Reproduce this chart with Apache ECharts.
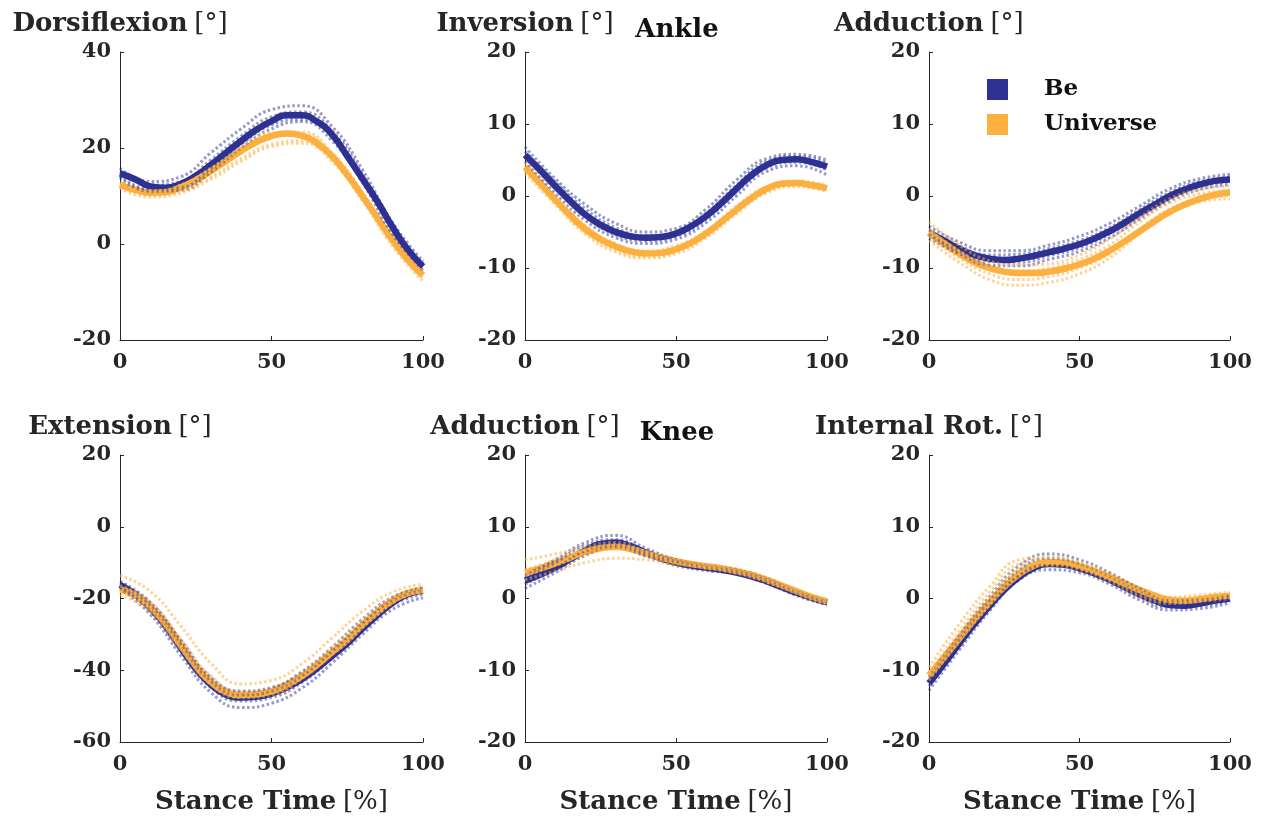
<!DOCTYPE html>
<html>
<head>
<meta charset="utf-8">
<title>Ankle and knee angles over stance</title>
<script src="https://cdn.jsdelivr.net/npm/echarts@6.0.0/dist/echarts.min.js"></script>
<style>
    html, body { margin: 0; padding: 0; background: #fff; }
    #main { width: 1267px; height: 818px; }
</style>
</head>
<body>
<div id="main"></div>
<script>
// stance time samples [%]
var xMean = [0, 5, 10, 15, 20, 25, 30, 35, 40, 45, 50, 55, 60, 65, 70, 75, 80, 85, 90, 95, 100];
var xTrial = [0, 10, 20, 30, 40, 50, 60, 70, 80, 90, 100];

// ankle dorsiflexion
var dorsiBe = [14.7, 13.5, 12.0, 11.7, 12.5, 14.2, 16.5, 19.0, 21.5, 23.8, 25.6, 26.8, 26.8, 25.5, 22.8, 18.3, 13.6, 8.8, 3.5, -1.2, -4.7];
var dorsiUni = [12.3, 11.3, 10.7, 10.8, 11.8, 13.3, 15.2, 17.3, 19.4, 21.2, 22.5, 23.0, 22.6, 21.0, 18.3, 14.4, 10.0, 5.4, 0.8, -3.3, -6.5];
var dorsiBeTrials = [
    [15.8, 13.0, 14.0, 19.0, 24.0, 28.0, 28.8, 24.5, 15.5, 4.4, -3.6],
    [15.0, 12.3, 13.0, 17.5, 22.5, 26.5, 27.5, 23.5, 14.5, 3.6, -4.1],
    [14.2, 11.5, 11.8, 15.8, 20.8, 24.8, 26.0, 22.5, 13.8, 2.8, -5.0],
    [13.8, 11.0, 11.2, 15.0, 20.0, 24.0, 25.5, 21.5, 12.8, 2.0, -5.5]
];
var dorsiUniTrials = [
    [12.8, 11.0, 12.3, 15.8, 20.0, 23.2, 23.3, 19.0, 10.8, 1.0, -6.0],
    [12.5, 10.8, 11.8, 15.2, 19.4, 22.5, 22.8, 18.5, 10.3, 0.8, -6.3],
    [12.0, 10.2, 11.0, 14.0, 17.8, 20.8, 21.5, 17.8, 9.5, 0.0, -7.2],
    [11.6, 9.8, 10.6, 13.5, 17.2, 20.3, 21.0, 17.2, 9.0, -0.5, -7.8]
];

// ankle inversion
var invBe = [5.7, 3.6, 1.4, -0.7, -2.6, -4.0, -5.0, -5.6, -5.8, -5.7, -5.2, -4.2, -2.8, -1.0, 1.0, 2.9, 4.3, 5.0, 5.1, 4.7, 4.1];
var invUni = [4.0, 1.8, -0.5, -2.7, -4.6, -6.0, -7.0, -7.7, -8.0, -7.9, -7.4, -6.5, -5.2, -3.6, -1.9, -0.3, 1.0, 1.7, 1.8, 1.5, 1.1];
var invBeTrials = [
    [6.8, 2.4, -1.2, -3.8, -5.0, -4.5, -1.8, 2.2, 5.2, 5.8, 5.0],
    [6.2, 2.0, -1.8, -4.4, -5.5, -5.0, -2.4, 1.5, 4.8, 5.5, 4.6],
    [5.4, 1.0, -2.8, -5.4, -6.2, -5.6, -3.2, 0.6, 3.9, 4.7, 3.6],
    [4.8, 0.4, -3.4, -5.8, -6.6, -6.0, -3.7, 0.0, 3.4, 4.2, 2.9]
];
var invUniTrials = [
    [4.6, 0.0, -4.1, -6.6, -7.6, -6.9, -4.8, -1.4, 1.3, 2.1, 1.5],
    [4.2, -0.4, -4.5, -7.0, -8.0, -7.3, -5.1, -1.8, 1.0, 1.8, 1.2],
    [3.6, -0.9, -5.0, -7.5, -8.4, -7.7, -5.5, -2.2, 0.6, 1.5, 0.8],
    [3.2, -1.2, -5.3, -7.8, -8.6, -8.0, -5.8, -2.5, 0.4, 1.3, 0.6]
];

// ankle adduction
var addAnkBe = [-5.1, -6.2, -7.3, -8.2, -8.7, -8.9, -8.7, -8.3, -7.8, -7.3, -6.7, -5.9, -4.9, -3.7, -2.4, -1.2, 0.0, 0.9, 1.6, 2.1, 2.3];
var addAnkUni = [-5.1, -6.6, -8.0, -9.2, -10.0, -10.5, -10.7, -10.7, -10.5, -10.1, -9.5, -8.7, -7.6, -6.3, -4.9, -3.5, -2.2, -1.2, -0.4, 0.2, 0.5];
var addAnkBeTrials = [
    [-4.2, -6.4, -7.6, -7.6, -6.8, -5.6, -3.8, -1.4, 1.0, 2.4, 3.0],
    [-4.7, -6.9, -8.2, -8.1, -7.3, -6.2, -4.4, -1.9, 0.5, 2.0, 2.6],
    [-5.4, -7.6, -9.1, -9.2, -8.3, -7.2, -5.3, -2.8, -0.3, 1.3, 2.0],
    [-5.9, -8.0, -9.6, -9.7, -8.8, -7.7, -5.8, -3.2, -0.7, 0.9, 1.6]
];
var addAnkUniTrials = [
    [-3.6, -6.8, -9.0, -9.6, -9.4, -8.2, -6.0, -3.0, -0.4, 0.9, 1.4],
    [-4.6, -7.6, -9.8, -10.4, -10.0, -8.8, -6.8, -3.6, -1.0, 0.3, 0.8],
    [-5.6, -8.6, -10.8, -11.6, -11.2, -10.0, -8.0, -4.6, -1.8, -0.4, 0.0],
    [-6.2, -9.2, -11.6, -12.4, -12.0, -10.8, -8.6, -5.2, -2.3, -0.8, -0.4]
];

// knee extension
var extBe = [-16.2, -18.8, -22.6, -27.6, -33.6, -39.5, -44.0, -46.8, -47.6, -47.4, -46.5, -44.8, -42.5, -39.5, -36.0, -32.5, -28.4, -24.6, -21.2, -18.8, -17.8];
var extUni = [-17.5, -19.0, -22.3, -27.0, -33.0, -38.8, -43.3, -46.0, -46.9, -46.7, -45.8, -44.0, -41.6, -38.5, -35.0, -31.6, -27.4, -23.8, -20.6, -18.5, -17.7];
var extBeTrials = [
    [-15.2, -21.0, -31.5, -42.0, -45.8, -44.8, -40.4, -33.6, -25.8, -19.6, -17.0],
    [-15.8, -22.0, -32.8, -43.2, -47.0, -45.8, -41.6, -34.8, -27.0, -20.6, -17.8],
    [-16.6, -23.4, -34.6, -44.8, -48.6, -47.6, -43.4, -36.6, -28.6, -21.8, -18.8],
    [-17.2, -24.4, -35.8, -46.2, -50.4, -49.2, -45.0, -38.0, -30.0, -23.0, -19.8]
];
var extUniTrials = [
    [-13.6, -18.0, -27.6, -38.0, -43.8, -42.8, -38.2, -31.0, -23.6, -18.2, -16.0],
    [-16.4, -21.0, -31.2, -41.6, -46.0, -45.4, -41.0, -33.6, -26.0, -19.8, -17.0],
    [-17.8, -22.6, -33.4, -43.6, -47.2, -46.4, -42.0, -34.8, -27.0, -20.6, -17.6],
    [-19.0, -23.8, -34.0, -44.0, -47.6, -46.8, -42.4, -35.2, -27.6, -21.0, -18.0]
];

// knee adduction
var addKneeBe = [2.5, 3.3, 4.3, 5.5, 6.7, 7.6, 7.8, 7.3, 6.4, 5.6, 5.0, 4.6, 4.3, 4.0, 3.6, 3.1, 2.4, 1.6, 0.8, 0.1, -0.5];
var addKneeUni = [3.6, 4.2, 4.9, 5.7, 6.5, 7.0, 7.2, 6.9, 6.3, 5.7, 5.2, 4.8, 4.5, 4.2, 3.8, 3.3, 2.6, 1.8, 1.0, 0.2, -0.4];
var addKneeBeTrials = [
    [3.2, 5.4, 7.8, 8.8, 7.0, 5.4, 4.6, 4.0, 2.8, 1.0, -0.4],
    [2.8, 5.0, 7.4, 8.2, 6.6, 5.2, 4.4, 3.8, 2.6, 0.9, -0.5],
    [2.0, 4.2, 6.6, 7.6, 6.2, 4.8, 4.1, 3.6, 2.3, 0.6, -0.7],
    [1.4, 3.6, 6.0, 7.2, 5.9, 4.6, 3.9, 3.4, 2.1, 0.4, -0.9]
];
var addKneeUniTrials = [
    [5.4, 6.2, 7.2, 7.8, 6.6, 5.4, 4.7, 4.1, 2.9, 1.1, -0.2],
    [4.0, 5.4, 6.8, 7.4, 6.4, 5.2, 4.5, 3.9, 2.7, 1.0, -0.3],
    [3.2, 4.6, 6.2, 6.9, 6.1, 5.0, 4.4, 3.8, 2.6, 0.9, -0.5],
    [2.6, 3.8, 5.0, 5.6, 5.4, 4.8, 4.3, 3.7, 2.5, 0.8, -0.6]
];

// knee internal rotation
var rotBe = [-11.8, -9.1, -6.3, -3.6, -1.1, 1.2, 3.0, 4.3, 4.8, 4.7, 4.2, 3.5, 2.6, 1.6, 0.6, -0.3, -0.9, -1.0, -0.7, -0.3, 0.0];
var rotUni = [-10.7, -8.2, -5.6, -3.0, -0.6, 1.6, 3.4, 4.6, 5.1, 5.0, 4.5, 3.8, 3.0, 2.1, 1.2, 0.4, -0.2, -0.3, -0.1, 0.2, 0.4];
var rotBeTrials = [
    [-11.0, -5.2, 0.2, 4.6, 6.2, 5.4, 3.6, 1.4, -0.3, -0.2, 0.4],
    [-11.6, -5.8, -0.4, 4.0, 5.6, 4.8, 3.0, 0.9, -0.7, -0.6, 0.1],
    [-12.2, -6.6, -1.2, 3.2, 4.6, 4.0, 2.4, 0.2, -1.2, -1.0, -0.3],
    [-12.8, -7.2, -1.8, 2.6, 4.0, 3.6, 2.0, -0.2, -1.6, -1.4, -0.6]
];
var rotUniTrials = [
    [-9.6, -3.6, 1.6, 5.4, 5.8, 5.0, 3.4, 1.3, 0.2, 0.5, 0.9],
    [-10.4, -4.6, 0.8, 4.8, 5.4, 4.6, 3.0, 0.9, -0.1, 0.2, 0.6],
    [-11.0, -5.4, 0.0, 4.2, 5.0, 4.3, 2.7, 0.6, -0.4, -0.1, 0.3],
    [-11.4, -6.0, -0.6, 3.8, 4.6, 4.0, 2.4, 0.3, -0.7, -0.4, 0.0]
];

// y range per panel: [min, max, step]
var yRanges = [[-20, 40, 20], [-20, 20, 10], [-20, 20, 10], [-60, 20, 20], [-20, 20, 10], [-20, 20, 10]];
var panelTitles = ['Dorsiflexion', 'Inversion', 'Adduction', 'Extension', 'Adduction', 'Internal Rot.'];
var jointNames = ['Ankle', 'Knee'];

var panels = [
    {be: dorsiBe, uni: dorsiUni, beT: dorsiBeTrials, uniT: dorsiUniTrials},
    {be: invBe, uni: invUni, beT: invBeTrials, uniT: invUniTrials},
    {be: addAnkBe, uni: addAnkUni, beT: addAnkBeTrials, uniT: addAnkUniTrials},
    {be: extBe, uni: extUni, beT: extBeTrials, uniT: extUniTrials},
    {be: addKneeBe, uni: addKneeUni, beT: addKneeBeTrials, uniT: addKneeUniTrials},
    {be: rotBe, uni: rotUni, beT: rotBeTrials, uniT: rotUniTrials}
];

var BE = '#2E3192', UNI = '#FBB040';
var BE_T = 'rgba(46,49,146,0.5)', UNI_T = 'rgba(251,176,64,0.55)';
var FONT = 'DejaVu Serif';
var INK = '#262626';

var colLeft = [120, 525, 929];
var colWidth = [303, 302, 301];
var rowTop = [52, 455];
var rowHeight = [288, 287];

function pairs(xs, ys) {
    return xs.map(function (x, i) { return [x, ys[i]]; });
}

var labelRich = {
    b: {fontFamily: FONT, fontWeight: 'bold', fontSize: 26, fill: INK},
    n: {fontFamily: FONT, fontWeight: 'normal', fontSize: 26, fill: INK}
};

var grids = [], xAxes = [], yAxes = [], series = [], graphics = [];

panels.forEach(function (p, i) {
    var c = i % 3, r = Math.floor(i / 3);
    grids.push({left: colLeft[c], top: rowTop[r], width: colWidth[c], height: rowHeight[r], containLabel: false});
    xAxes.push({
        gridIndex: i, type: 'value', min: 0, max: 100, interval: 50,
        axisLine: {onZero: false, lineStyle: {color: INK, width: 1}},
        axisTick: {inside: true, length: 4, lineStyle: {color: INK}},
        axisLabel: {margin: 12, color: INK, fontFamily: FONT, fontWeight: 'bold', fontSize: 21},
        splitLine: {show: false}
    });
    yAxes.push({
        gridIndex: i, type: 'value', min: yRanges[i][0], max: yRanges[i][1], interval: yRanges[i][2],
        axisLine: {show: true, onZero: false, lineStyle: {color: INK, width: 1}},
        axisTick: {show: true, inside: true, length: 4, lineStyle: {color: INK}},
        axisLabel: {margin: 9, color: INK, fontFamily: FONT, fontWeight: 'bold', fontSize: 21},
        splitLine: {show: false}
    });

    series.push({
        name: 'Be', type: 'line', xAxisIndex: i, yAxisIndex: i, data: pairs(xMean, p.be),
        smooth: true, symbol: 'none', z: 2,
        itemStyle: {color: BE}, lineStyle: {color: BE, width: 6.5}
    });
    series.push({
        name: 'Universe', type: 'line', xAxisIndex: i, yAxisIndex: i, data: pairs(xMean, p.uni),
        smooth: true, symbol: 'none', z: 2,
        itemStyle: {color: UNI}, lineStyle: {color: UNI, width: 6.5}
    });
    p.beT.forEach(function (t) {
        series.push({
            name: 'Be trial', type: 'line', xAxisIndex: i, yAxisIndex: i, data: pairs(xTrial, t),
            smooth: true, symbol: 'none', z: 3, silent: true,
            lineStyle: {color: BE_T, width: 3, type: [2.5, 2.5]}
        });
    });
    p.uniT.forEach(function (t) {
        series.push({
            name: 'Universe trial', type: 'line', xAxisIndex: i, yAxisIndex: i, data: pairs(xTrial, t),
            smooth: true, symbol: 'none', z: 3, silent: true,
            lineStyle: {color: UNI_T, width: 3, type: [2.5, 2.5]}
        });
    });

    // panel title, centred on the y axis
    graphics.push({
        type: 'text', x: colLeft[c], y: rowTop[r] - 28,
        style: {
            text: '{b|' + panelTitles[i] + '}  {n|[°]}',
            align: 'center', verticalAlign: 'middle',
            rich: labelRich
        }
    });
    if (r === 1) {
        graphics.push({
            type: 'text', x: colLeft[c] + colWidth[c] / 2, y: 802,
            style: {
                text: '{b|Stance Time}  {n|[%]}',
                align: 'center', verticalAlign: 'middle',
                rich: labelRich
            }
        });
    }
});

// joint labels over the middle column
jointNames.forEach(function (name, r) {
    graphics.push({
        type: 'text', x: 677, y: rowTop[r] - 22,
        style: {text: name, align: 'center', verticalAlign: 'middle',
            fontFamily: FONT, fontWeight: 'bold', fontSize: 26, fill: '#111'}
    });
});

var chart = echarts.init(document.getElementById('main'));

var option = {
    animation: false,
    backgroundColor: '#fff',
    legend: {
        data: ['Be', 'Universe'],
        orient: 'vertical',
        left: 982, top: 73,
        icon: 'rect',
        itemWidth: 21, itemHeight: 21, itemGap: 12,
        itemStyle: {borderWidth: 0},
        textStyle: {fontFamily: FONT, fontWeight: 'bold', fontSize: 23, color: '#111', padding: [0, 0, 0, 31], lineHeight: 21}
    },
    grid: grids,
    xAxis: xAxes,
    yAxis: yAxes,
    series: series,
    graphic: graphics
};

chart.setOption(option);
window.addEventListener('resize', function () {
    chart.resize();
});
</script>
</body>
</html>
